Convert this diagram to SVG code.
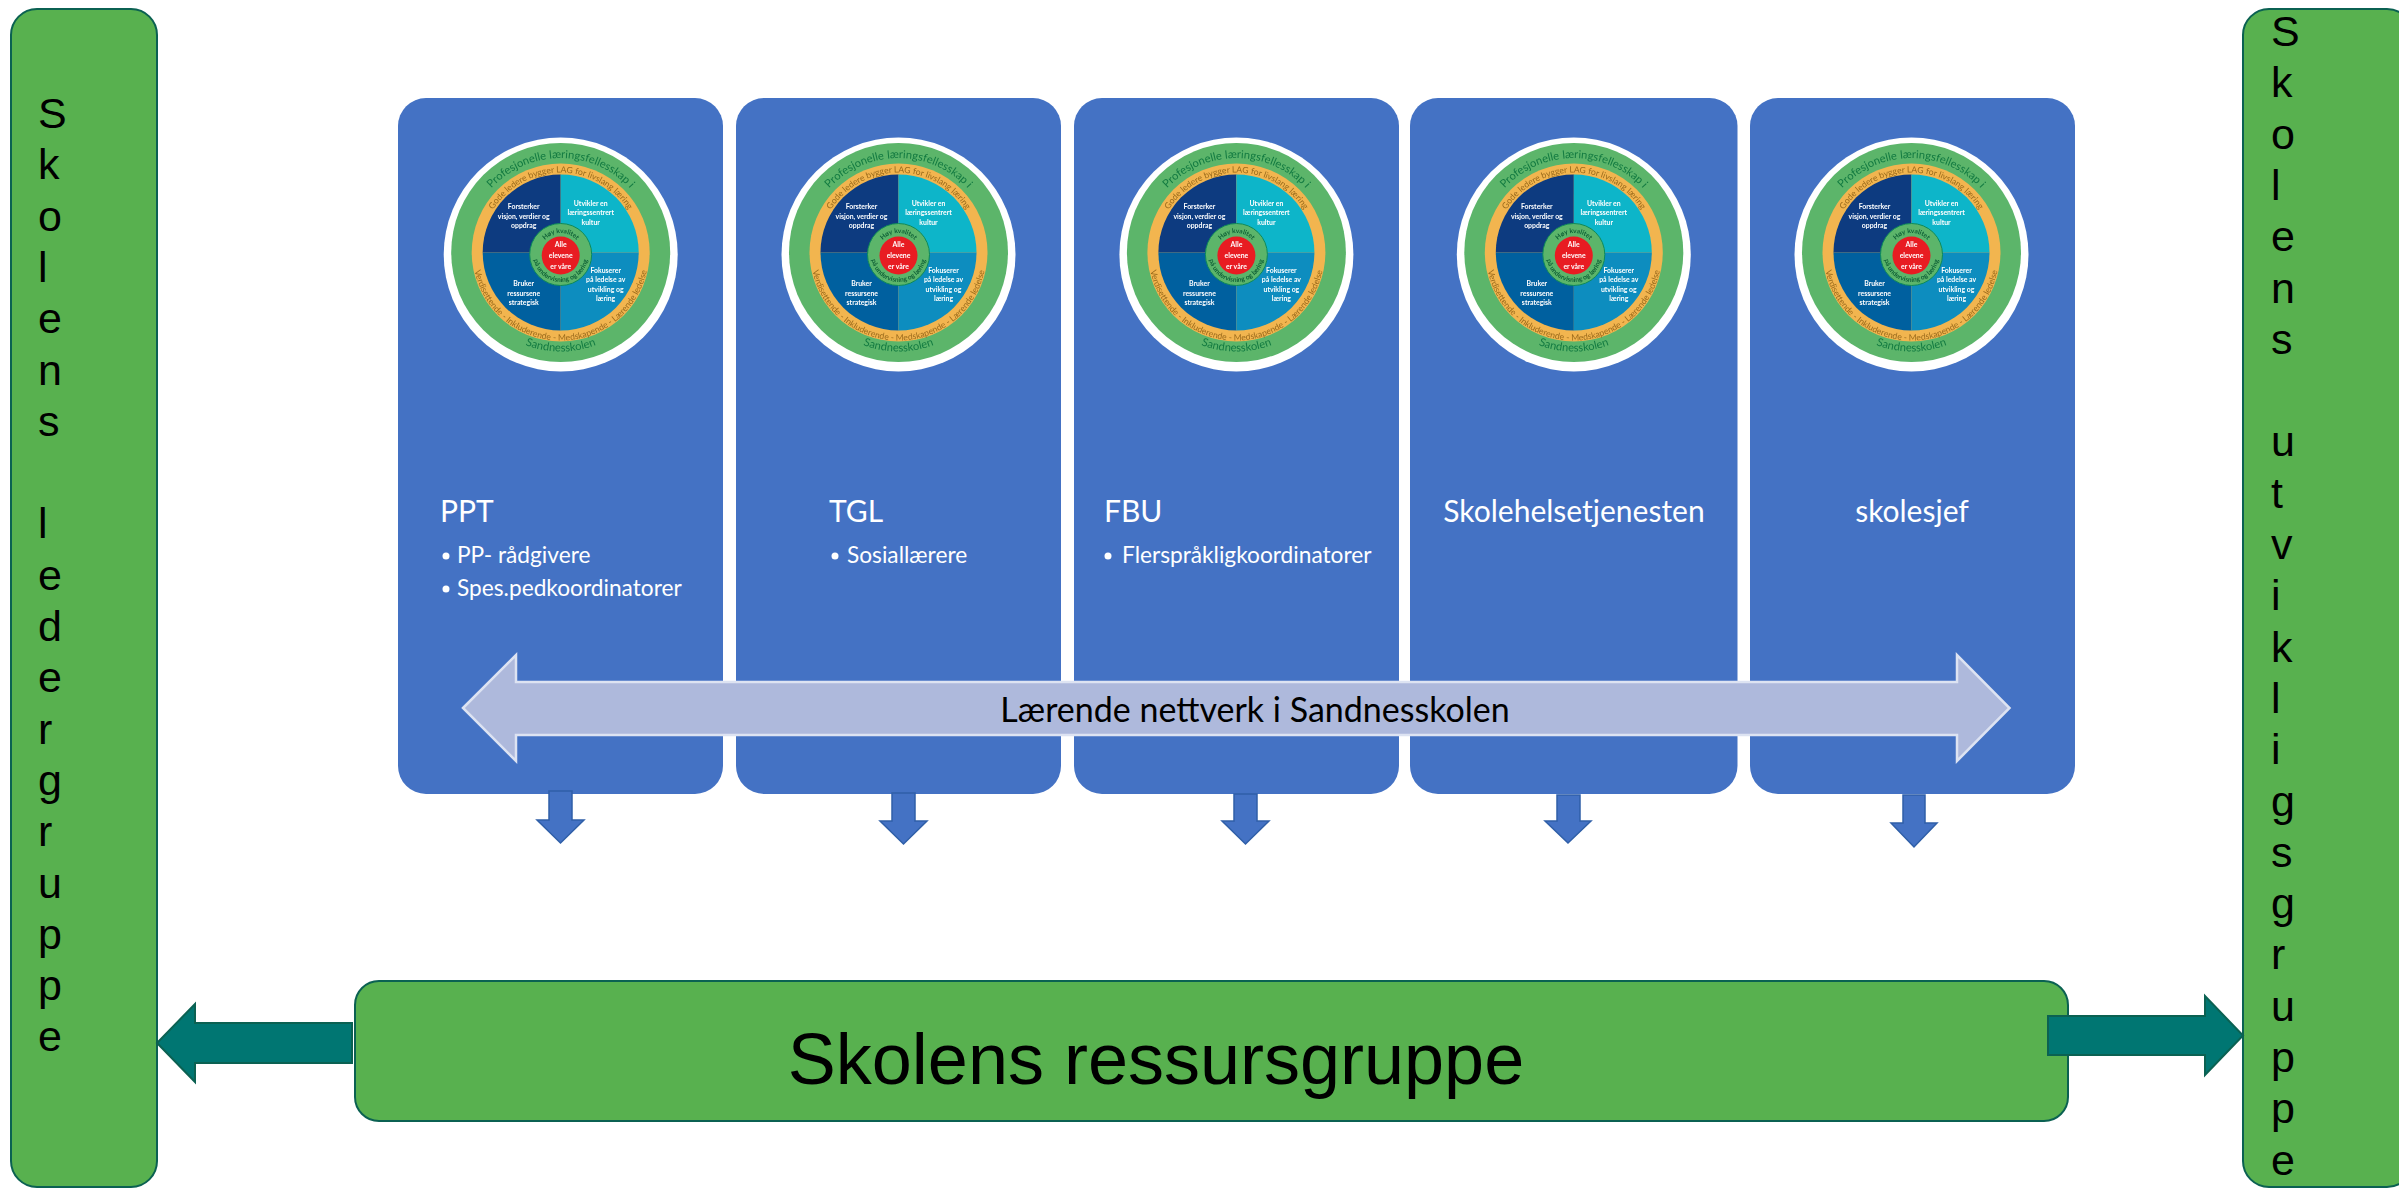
<svg xmlns="http://www.w3.org/2000/svg" width="2399" height="1189" viewBox="0 0 2399 1189">
<style>
.col{fill:#4472C4}
.grn{fill:#58B14F;stroke:#0B6152;stroke-width:2}
.teal{fill:#007672;stroke:#0B6152;stroke-width:2}
.down{fill:#4472C4;stroke:#2F5FA8;stroke-width:1.5}
.v{font-family:"Liberation Sans",Arial,sans-serif;font-size:43px;fill:#000}
.t{font-family:Lato,"Noto Sans",sans-serif;fill:#fff;font-size:30px}
.b{font-family:Lato,"Noto Sans",sans-serif;fill:#fff;font-size:22.700px}
.q{font-family:Lato,"Noto Sans",sans-serif;fill:#fff;font-size:6.900px;font-weight:700;text-anchor:middle}
.arcg{font-family:Lato,"Noto Sans",sans-serif;fill:#137A40;font-size:11.200px;text-anchor:middle}
.arco{font-family:Lato,"Noto Sans",sans-serif;fill:#9A6A1C;font-size:8.600px;text-anchor:middle}
.arci{font-family:Lato,"Noto Sans",sans-serif;fill:#0F5F35;font-size:6.600px;font-weight:700;text-anchor:middle}
</style>
<defs>
<filter id="soft" x="-5%" y="-5%" width="110%" height="110%"><feGaussianBlur stdDeviation="0.5"/></filter>
<path id="a1" d="M-94.500 -2A94.500 94.500 0 0 1 94.500 -2"/>
<path id="a2" d="M-80 -2A80 80 0 0 1 80 -2"/>
<path id="a3" d="M-88 -2A88 88 0 0 0 88 -2"/>
<path id="a4" d="M-99 -2A99 99 0 0 0 99 -2"/>
<path id="a5" d="M-21.500 0A21.500 21.500 0 0 1 21.500 0"/>
<path id="a6" d="M-27.500 0A27.500 27.500 0 0 0 27.500 0"/>
<g id="wheel" filter="url(#soft)">
<circle r="117" fill="#fff"/>
<circle cy="-2" r="109.500" fill="#5BB56B"/>
<circle cy="-2" r="89" fill="#F2B54F"/>
<path d="M0 -2V-80A78 78 0 0 0 -78 -2Z" fill="#0B3A80"/>
<path d="M0 -2V-80A78 78 0 0 1 78 -2Z" fill="#10B5C9"/>
<path d="M0 -2H-78A78 78 0 0 0 0 76Z" fill="#05609F"/>
<path d="M0 -2H78A78 78 0 0 1 0 76Z" fill="#0A8DBF"/>
<circle r="31" fill="#5BB56B" stroke="#0E8A5A" stroke-width="1"/>
<circle cy="1" r="19" fill="#E81C24"/>
<text class="arcg"><textPath href="#a1" startOffset="50%">Profesjonelle læringsfellesskap i</textPath></text>
<text class="arco"><textPath href="#a2" startOffset="50%">Gode ledere bygger LAG for livslang læring</textPath></text>
<text class="arco"><textPath href="#a3" startOffset="50%">Verdisettende - Inkluderende - Medskapende - Lærende ledelse</textPath></text>
<text class="arcg"><textPath href="#a4" startOffset="50%">Sandnesskolen</textPath></text>
<text class="arci"><textPath href="#a5" startOffset="50%">Høy kvalitet</textPath></text>
<text class="arci"><textPath href="#a6" startOffset="50%">på undervisning og læring</textPath></text>
<text class="q" x="-37" y="-46">Forsterker</text><text class="q" x="-37" y="-36">visjon, verdier og</text><text class="q" x="-37" y="-27">oppdrag</text>
<text class="q" x="30" y="-49">Utvikler en</text><text class="q" x="30" y="-40">læringssentrert</text><text class="q" x="30" y="-30">kultur</text>
<text class="q" x="-37" y="31">Bruker</text><text class="q" x="-37" y="41">ressursene</text><text class="q" x="-37" y="50">strategisk</text>
<text class="q" x="45" y="18">Fokuserer</text><text class="q" x="45" y="27.500">på ledelse av</text><text class="q" x="45" y="37">utvikling og</text><text class="q" x="45" y="46.500">læring</text>
<text class="q" x="0" y="-8">Alle</text><text class="q" x="0" y="3">elevene</text><text class="q" x="0" y="14">er våre</text>
</g>
</defs>
<rect width="2399" height="1189" fill="#fff"/>

<g id="node-ppt">
<rect class="col" x="398" y="98" width="325" height="696" rx="28"/>
<use href="#wheel" x="560.700" y="254.500"/>
<text class="t" x="440" y="522">PPT</text>
<circle cx="446" cy="556" r="3.500" fill="#fff"/><text class="b" x="457" y="563">PP- rådgivere</text>
<circle cx="446" cy="589" r="3.500" fill="#fff"/><text class="b" x="457" y="596">Spes.pedkoordinatorer</text>
</g>
<g id="node-tgl">
<rect class="col" x="736" y="98" width="325" height="696" rx="28"/>
<use href="#wheel" x="898.500" y="254.500"/>
<text class="t" x="829" y="522">TGL</text>
<circle cx="835" cy="556" r="3.500" fill="#fff"/><text class="b" x="847" y="563">Sosiallærere</text>
</g>
<g id="node-fbu">
<rect class="col" x="1074" y="98" width="325" height="696" rx="28"/>
<use href="#wheel" x="1236.400" y="254.500"/>
<text class="t" x="1104" y="522">FBU</text>
<circle cx="1108" cy="556" r="3.500" fill="#fff"/><text class="b" x="1122" y="563">Flerspråkligkoordinatorer</text>
</g>
<g id="node-skolehelse">
<rect class="col" x="1410" y="98" width="327.500" height="696" rx="28"/>
<use href="#wheel" x="1573.800" y="254.500"/>
<text class="t" x="1574" y="522" text-anchor="middle">Skolehelsetjenesten</text>
</g>
<g id="node-skolesjef">
<rect class="col" x="1750" y="98" width="325" height="696" rx="28"/>
<use href="#wheel" x="1911.500" y="254.500"/>
<text class="t" x="1912" y="522" text-anchor="middle">skolesjef</text>
</g>

<g id="node-nettverk">
<path d="M463 708L516 655V682H1957V655L2009.500 708L1957 761V735H516V761Z" fill="#AEB9DC" stroke="#DDE3F2" stroke-width="2.500"/>
<text x="1255" y="722" font-family="Lato,'Noto Sans',sans-serif" font-size="34" fill="#000" text-anchor="middle">Lærende nettverk i Sandnesskolen</text>
</g>

<g id="connectors">
<path class="down" d="M549 791H572V820H584L560.500 843L537 820H549Z"/>
<path class="down" d="M892 793H915V821H927L903.500 844L880 821H892Z"/>
<path class="down" d="M1234 794H1257V821H1269L1245.500 844L1222 821H1234Z"/>
<path class="down" d="M1557 795H1580V821H1591L1568 843L1545 821H1557Z"/>
<path class="down" d="M1903 795H1925V823H1937L1914 847L1891 823H1903Z"/>
</g>

<g id="node-leder">
<rect class="grn" x="11" y="9" width="146" height="1178" rx="26"/>
<text class="v" x="38" y="128">S</text><text class="v" x="38" y="179.300">k</text><text class="v" x="38" y="230.600">o</text><text class="v" x="38" y="281.900">l</text><text class="v" x="38" y="333.200">e</text><text class="v" x="38" y="384.500">n</text><text class="v" x="38" y="435.800">s</text>
<text class="v" x="38" y="538.400">l</text><text class="v" x="38" y="589.700">e</text><text class="v" x="38" y="641">d</text><text class="v" x="38" y="692.300">e</text><text class="v" x="38" y="743.600">r</text><text class="v" x="38" y="794.900">g</text><text class="v" x="38" y="846.200">r</text><text class="v" x="38" y="897.500">u</text><text class="v" x="38" y="948.800">p</text><text class="v" x="38" y="1000.100">p</text><text class="v" x="38" y="1051.400">e</text>
</g>

<g id="node-utvikling">
<rect class="grn" x="2243" y="9" width="170" height="1178" rx="26"/>
<text class="v" x="2271" y="46">S</text><text class="v" x="2271" y="97.300">k</text><text class="v" x="2271" y="148.600">o</text><text class="v" x="2271" y="199.900">l</text><text class="v" x="2271" y="251.200">e</text><text class="v" x="2271" y="302.500">n</text><text class="v" x="2271" y="353.800">s</text>
<text class="v" x="2271" y="456.400">u</text><text class="v" x="2271" y="507.700">t</text><text class="v" x="2271" y="559">v</text><text class="v" x="2271" y="610.300">i</text><text class="v" x="2271" y="661.600">k</text><text class="v" x="2271" y="712.900">l</text><text class="v" x="2271" y="764.200">i</text><text class="v" x="2271" y="815.500">g</text><text class="v" x="2271" y="866.800">s</text><text class="v" x="2271" y="918.100">g</text><text class="v" x="2271" y="969.400">r</text><text class="v" x="2271" y="1020.700">u</text><text class="v" x="2271" y="1072">p</text><text class="v" x="2271" y="1123.300">p</text><text class="v" x="2271" y="1174.600">e</text>
</g>

<g id="node-ressurs">
<rect class="grn" x="355" y="981" width="1713" height="140" rx="24"/>
<text x="1156" y="1084" font-family="'Liberation Sans',Arial,sans-serif" font-size="72" fill="#000" text-anchor="middle">Skolens ressursgruppe</text>
</g>

<g id="connectors-side">
<path class="teal" d="M352 1023H195V1004L157 1043L195 1082V1063H352Z"/>
<path class="teal" d="M2048 1016H2205V996L2243 1035.500L2205 1075V1055H2048Z"/>
</g>
</svg>
